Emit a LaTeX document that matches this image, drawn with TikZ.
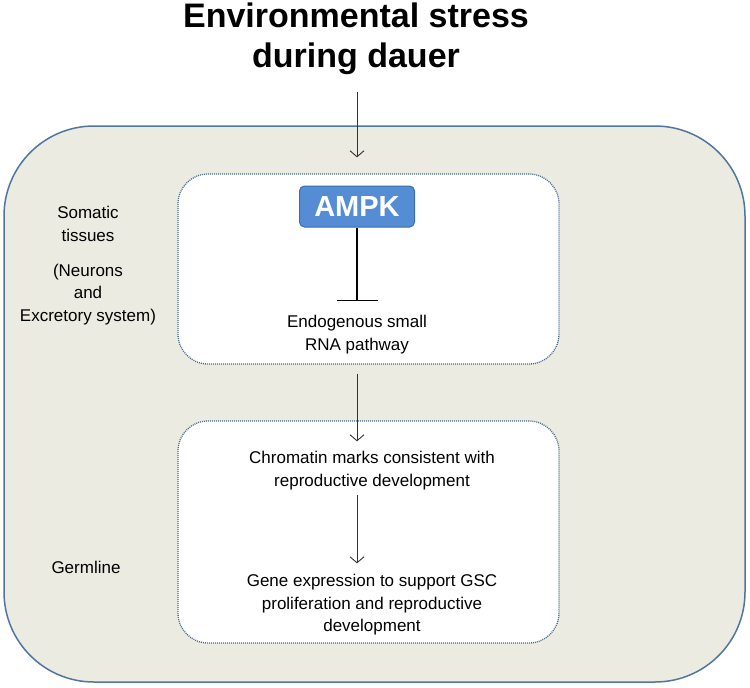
\documentclass[tikz,border=0pt]{standalone}
\usepackage{fontspec}
\setmainfont{Liberation Sans}
\usetikzlibrary{positioning,arrows.meta}
\definecolor{FrameBlue}{RGB}{80,118,160}
\definecolor{DotBlue}{RGB}{75,105,145}
\definecolor{BodyBg}{RGB}{236,235,225}
\definecolor{KinaseFill}{RGB}{84,141,212}
\definecolor{KinaseEdge}{RGB}{60,110,170}
\definecolor{LineGray}{RGB}{50,50,50}

\begin{document}
\begin{tikzpicture}[x=1pt, y=-1pt,
    region/.style={rectangle, rounded corners=30pt, draw=DotBlue, fill=white,
        line width=1.3pt, dash pattern=on 1pt off 1pt},
    kinase/.style={rectangle, rounded corners=5pt, draw=KinaseEdge, fill=KinaseFill,
        line width=1pt, minimum width=115pt, minimum height=41pt, text=white,
        font=\fontsize{29}{34}\selectfont\bfseries},
    txt/.style={inner sep=0pt, align=center, text=black, font=\fontsize{17}{22.5}\selectfont},
    arr/.style={-{Straight Barb[length=6pt,width=14pt]}, line width=0.9pt, LineGray},
    inhib/.style={-{Bar[width=41pt]}, line width=1.2pt, black},
]
\useasboundingbox (0,0) rectangle (750,688);
% animal body
\draw[fill=BodyBg, draw=FrameBlue, line width=1.5pt, rounded corners=90pt] (4,126) rectangle (745,682);

\node[inner sep=0pt, align=center, font=\fontsize{34}{40}\selectfont\bfseries] (title) at (356,39) {Environmental stress\\during dauer};

% tissue regions
\node[region, minimum width=381pt, minimum height=190pt] (somatic) at (368.5,269) {};
\node[region, minimum width=381pt, minimum height=222pt] (germ) at (368.5,532) {};

\node[kinase] (ampk) at (357,206.5) {AMPK};
\node[txt, below=87.8pt of ampk] (endo) {Endogenous small\\RNA pathway};
\node[txt] (chrom) at (372,470.7) {Chromatin marks consistent with\\reproductive development};
\node[txt] (gene) at (372,605) {Gene expression to support GSC\\proliferation and reproductive\\development};

\node[txt] (somlab) at (88,224) {Somatic\\tissues};
\node[txt, below=22pt of somlab] (celllab) {(Neurons\\and\\Excretory system)};
\node[txt] (germlab) at (86,567) {Germline};

\draw[arr, shorten <=17pt, shorten >=16pt] (title.south -| ampk) -- (somatic.north -| ampk);
\draw[inhib, shorten >=14pt] (ampk) -- (endo);
\draw[arr, shorten <=9pt, shorten >=10pt] (somatic.south -| ampk) -- (chrom.north -| ampk);
\draw[arr, shorten <=5pt, shorten >=11pt] (chrom.south -| ampk) -- (gene.north -| ampk);
\end{tikzpicture}
\end{document}
